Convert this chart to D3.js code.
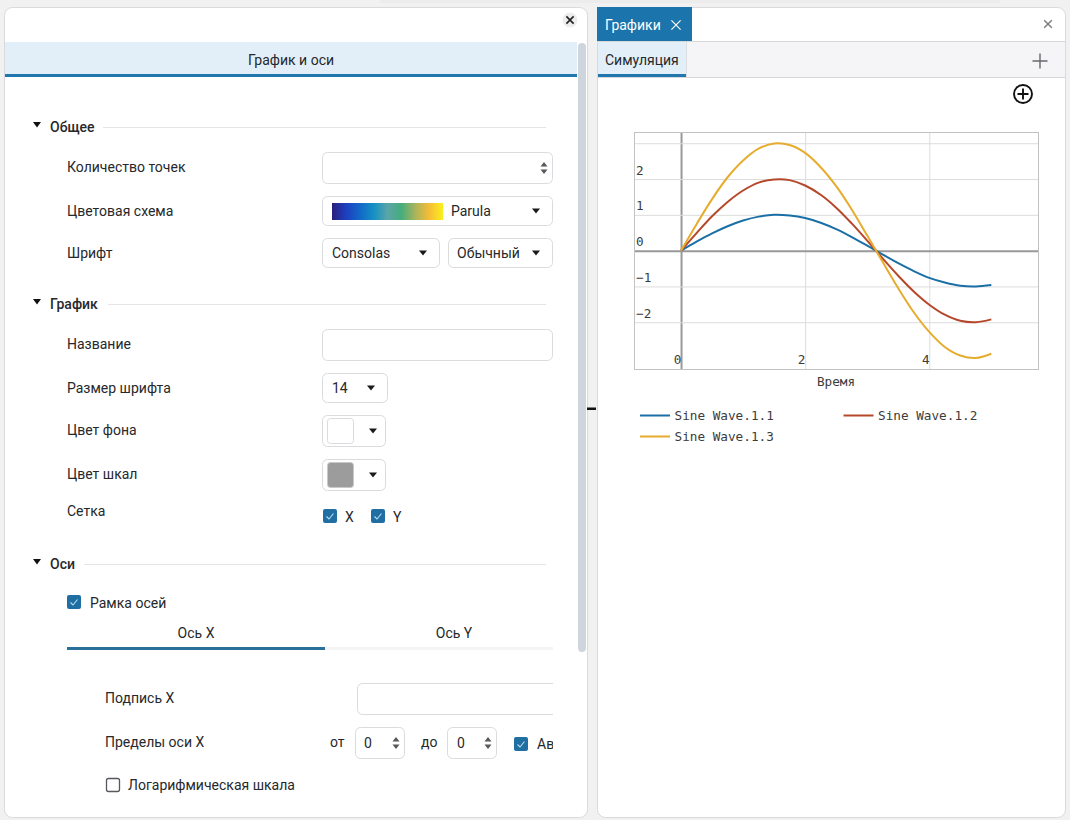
<!DOCTYPE html>
<html lang="ru">
<head>
<meta charset="utf-8">
<script src="https://cdn.jsdelivr.net/npm/d3@7"></script>
<style>
  html, body { margin: 0; padding: 0; background: #f1f1f2; overflow: hidden; }
  svg { display: block; }
  text { font-family: Roboto, sans-serif; font-size: 14px; fill: #26282b; }
  .mono text, text.mono { font-family: "DejaVu Sans Mono", monospace; font-size: 12.7px; fill: #3c3c3c; }
</style>
</head>
<body>
<script>
// values
const time = [0, 0.25, 0.5, 0.75, 1, 1.25, 1.5, 1.75, 2, 2.25, 2.5, 2.75, 3, 3.25, 3.5, 3.75, 4, 4.25, 4.5, 4.75, 5];
const wave1 = [0, 0.25, 0.48, 0.68, 0.84, 0.95, 1.0, 0.98, 0.91, 0.78, 0.6, 0.38, 0.14, -0.11, -0.35, -0.57, -0.76, -0.89, -0.98, -1.0, -0.96];
const wave2 = [0, 0.49, 0.96, 1.36, 1.68, 1.9, 1.99, 1.97, 1.82, 1.56, 1.2, 0.76, 0.28, -0.22, -0.7, -1.14, -1.51, -1.79, -1.96, -2.0, -1.92];
const wave3 = [0, 0.74, 1.44, 2.05, 2.52, 2.85, 2.99, 2.95, 2.73, 2.33, 1.8, 1.15, 0.42, -0.32, -1.05, -1.72, -2.27, -2.69, -2.93, -3.0, -2.88];
const seriesNames = ["Sine Wave.1.1", "Sine Wave.1.2", "Sine Wave.1.3"];
const seriesColors = ["#1a6fa6", "#b5482a", "#e6ac2e"];
const xTicks = [0, 2, 4];
const yGrid = [-2, -1, 0, 1, 2, 3];
const yLabels = [-2, -1, 0, 1, 2];
const parula = ["#2a1f7c", "#1d3fc0", "#1267c8", "#1590c4", "#5aa5a8", "#45ad7c", "#a9b45c", "#f5bd36", "#f9f01e"];

const svg = d3.select("body").append("svg").attr("width", 1070).attr("height", 820);
const defs = svg.append("defs");

// ---- small ui helpers
function label(x, y, str, opts) {
    opts = opts || {};
    return svg.append("text")
        .attr("x", x).attr("y", y).attr("dy", "0.35em")
        .attr("text-anchor", opts.anchor || "start")
        .style("font-weight", opts.weight || 400)
        .style("fill", opts.fill || "#26282b")
        .style("font-size", opts.size || null)
        .text(str);
}
function rect(x0, y0, x1, y1, fill, rx, stroke) {
    return svg.append("rect")
        .attr("x", x0).attr("y", y0).attr("width", x1 - x0).attr("height", y1 - y0)
        .attr("rx", rx || 0).attr("fill", fill).attr("stroke", stroke || "none");
}
function box(x0, y0, x1, y1) {
    return rect(x0 + 0.5, y0 + 0.5, x1 - 0.5, y1 - 0.5, "#fff", 5, "#dadbde");
}
function caret(x, y) {
    svg.append("path").attr("fill", "#1a1a1a")
        .attr("d", `M${x - 4},${y - 2.5}h8l-4,5z`);
}
function spinner(x, y) {
    svg.append("path").attr("fill", "#55585c")
        .attr("d", `M${x - 3.5},${y - 1.5}l3.5,-4.5l3.5,4.5z M${x - 3.5},${y + 1.5}l3.5,4.5l3.5,-4.5z`);
}
function checkbox(x, y, on) {
    if (on) {
        rect(x, y, x + 14, y + 14, "#1f6fa3", 2);
        svg.append("path").attr("fill", "none").attr("stroke", "#b9dcf2").attr("stroke-width", 1.1)
            .attr("d", `M${x + 3.5},${y + 7.5}l2.5,2.5l4.5,-5.5`);
    } else {
        rect(x + 0.5, y + 0.5, x + 13.5, y + 13.5, "#fff", 2, "#55585c").attr("stroke-width", 1.3);
    }
}
function section(y, str, lineStart) {
    svg.append("path").attr("fill", "#111").attr("d", `M33,${y - 5}h8l-4,5.5z`);
    label(50, y, str, { weight: 500 });
    svg.append("line").attr("x1", lineStart).attr("x2", 546).attr("y1", y + 0.5).attr("y2", y + 0.5).attr("stroke", "#e4e5e7");
}
function cross(x, y, r, color, w) {
    svg.append("path").attr("stroke", color).attr("stroke-width", w).attr("fill", "none")
        .attr("d", `M${x - r},${y - r}L${x + r},${y + r}M${x + r},${y - r}L${x - r},${y + r}`);
}

// ---- panels
rect(380, 0, 1000, 3, "#ececed");
rect(4.5, 7.5, 587.5, 817.5, "#fff", 8, "#d9dadc");
rect(597.5, 7.5, 1065.5, 817.5, "#fff", 8, "#d9dadc");
svg.append("rect").attr("x", 587).attr("y", 407.5).attr("width", 9).attr("height", 2.5).attr("fill", "#111");

// ---- left panel
svg.append("circle").attr("cx", 570).attr("cy", 20).attr("r", 7.5).attr("fill", "#ededee");
cross(570, 20, 3.6, "#222", 1.6);
rect(5, 42, 577, 74, "#e3eff8");
rect(5, 74, 577, 77, "#1f77ae");
label(291, 60, "График и оси", { anchor: "middle" });
rect(578, 43, 586, 652, "#ced5dd", 4);

section(127, "Общее", 103);
label(67, 167, "Количество точек");
box(322, 152, 553, 184);
spinner(544, 168);
label(67, 211, "Цветовая схема");
box(322, 196, 553, 226);
const grad = defs.append("linearGradient").attr("id", "parula");
grad.selectAll("stop").data(parula).join("stop")
    .attr("offset", (d, i) => i / (parula.length - 1))
    .attr("stop-color", d => d);
rect(332, 203, 443, 220, "url(#parula)");
label(451, 211, "Parula");
caret(536, 211);
label(67, 253, "Шрифт");
box(322, 238, 440, 268);
label(332, 253, "Consolas");
caret(423, 253);
box(448, 238, 553, 268);
label(457, 253, "Обычный");
caret(536, 253);

section(304, "График", 108);
label(67, 344, "Название");
box(322, 329, 553, 361);
label(67, 388, "Размер шрифта");
box(322, 373, 388, 403);
label(332, 388, "14");
caret(371, 388);
label(67, 430, "Цвет фона");
box(322, 415, 386, 447);
rect(327.5, 418.5, 353.5, 443.5, "#fff", 3, "#dadbde");
caret(373, 431);
label(67, 474, "Цвет шкал");
box(322, 459, 386, 491);
rect(327.5, 462.5, 353.5, 487.5, "#9c9c9c", 3, "#c9c9c9");
caret(373, 475);
label(67, 511, "Сетка");
checkbox(323, 509, true);
label(345, 517, "X");
checkbox(371, 509, true);
label(393, 517, "Y");

section(564, "Оси", 84);
checkbox(67, 595, true);
label(90, 603, "Рамка осей");
label(196, 633, "Ось X", { anchor: "middle" });
label(454, 633, "Ось Y", { anchor: "middle" });
rect(325, 647, 553, 650, "#f4f4f5");
rect(67, 647, 325, 650, "#2a7099");
label(105, 698, "Подпись X");
svg.append("path").attr("fill", "#fff").attr("stroke", "#dadbde")
    .attr("d", "M553,683.5H362.5a5,5 0 0 0 -5,5V709.5a5,5 0 0 0 5,5H553");
label(105, 742, "Пределы оси X");
label(330, 742, "от");
box(355, 727, 405, 759);
label(364, 743, "0");
spinner(396, 743);
label(421, 742, "до");
box(447, 727, 497, 759);
label(457, 743, "0");
spinner(488, 743);
checkbox(514, 737, true);
label(537, 744, "Ав");
rect(553, 735, 560, 752, "#fff");
checkbox(106, 778, false);
label(128, 785, "Логарифмическая шкала");

// ---- right panel header
rect(597, 7, 692, 41, "#1b74ab");
label(605, 25, "Графики", { fill: "#fff" });
cross(676, 25, 4.6, "#fff", 1.2);
cross(1048, 24, 3.8, "#77797c", 1.4);
rect(598, 42, 1065, 77, "#f5f5f7");
svg.append("line").attr("x1", 598).attr("x2", 1065).attr("y1", 41.5).attr("y2", 41.5).attr("stroke", "#d6d7d9");
svg.append("line").attr("x1", 598).attr("x2", 1065).attr("y1", 77.5).attr("y2", 77.5).attr("stroke", "#d6d7d9");
rect(598, 42, 686, 74, "#e3eff8");
rect(598, 74, 686, 77, "#1f77ae");
svg.append("line").attr("x1", 686.5).attr("x2", 686.5).attr("y1", 42).attr("y2", 77).attr("stroke", "#dcdde0");
label(605, 60, "Симуляция");
svg.append("path").attr("stroke", "#66686b").attr("stroke-width", 1.4).attr("d", "M1040,53.5V68.5M1032.5,61H1047.5");
svg.append("circle").attr("cx", 1023).attr("cy", 94).attr("r", 9).attr("fill", "none").attr("stroke", "#111").attr("stroke-width", 1.9);
svg.append("path").attr("stroke", "#111").attr("stroke-width", 1.9).attr("d", "M1023,88.5V99.5M1017.5,94H1028.5");

// ---- the chart
const plot = { left: 634.5, right: 1038.5, top: 132.5, bottom: 369.5 };
const h = plot.bottom - plot.top;

const x = d3.scaleLinear().domain([-0.75, 5.76]).range([plot.left, plot.right]);
const y = d3.scaleLinear().domain([-3.32, 3.3]).range([plot.bottom, plot.top]);

const xAxis = svg.append("g").attr("class", "mono")
    .attr("transform", "translate(0," + plot.bottom + ")")
    .call(d3.axisBottom(x).tickValues(xTicks).tickSize(-h).tickFormat(d3.format("d")));
xAxis.select(".domain").remove();
xAxis.selectAll("line").attr("stroke", d => d === 0 ? "#999" : "#dcdcdc").attr("stroke-width", d => d === 0 ? 2 : 1);
xAxis.selectAll("text").attr("x", -4).attr("y", -6).attr("dy", "0");

const yAxis = svg.append("g").attr("class", "mono")
    .attr("transform", "translate(" + plot.left + ",0)")
    .call(d3.axisLeft(y).tickValues(yGrid).tickSize(-(plot.right - plot.left)).tickFormat(d => yLabels.includes(d) ? d3.format("d")(d) : ""));
yAxis.select(".domain").remove();
yAxis.selectAll("line").attr("stroke", d => d === 0 ? "#999" : "#dcdcdc").attr("stroke-width", d => d === 0 ? 2 : 1);
yAxis.selectAll("text").attr("x", 1.5).attr("y", -5).attr("dy", "0").attr("text-anchor", "start");

// frame
svg.append("rect")
    .attr("x", plot.left).attr("y", plot.top).attr("width", plot.right - plot.left).attr("height", h)
    .attr("fill", "none").attr("stroke", "#c2c2c2");

const line = d3.line()
    .x((d, i) => x(time[i]))
    .y(d => y(d))
    .curve(d3.curveCatmullRom);

svg.selectAll(".wave")
    .data([wave1, wave2, wave3])
    .join("path")
    .attr("class", "wave")
    .attr("fill", "none")
    .attr("stroke", (d, i) => seriesColors[i])
    .attr("stroke-width", 2)
    .attr("d", line);

svg.append("text").attr("class", "mono")
    .attr("x", 836).attr("y", 385.5)
    .attr("text-anchor", "middle")
    .text("Время");

// legend
const legend = svg.selectAll(".legendItem")
    .data(seriesNames)
    .join("g")
    .attr("class", "legendItem mono")
    .attr("transform", (d, i) => "translate(" + (640 + (i % 2) * 203.5) + "," + (415.5 + Math.floor(i / 2) * 21) + ")");
legend.append("line")
    .attr("x1", 0).attr("x2", 30).attr("y1", 0).attr("y2", 0)
    .attr("stroke", (d, i) => seriesColors[i])
    .attr("stroke-width", 2);
legend.append("text")
    .attr("x", 34.5).attr("y", 0).attr("dy", "0.35em")
    .text(d => d);
</script>
</body>
</html>
